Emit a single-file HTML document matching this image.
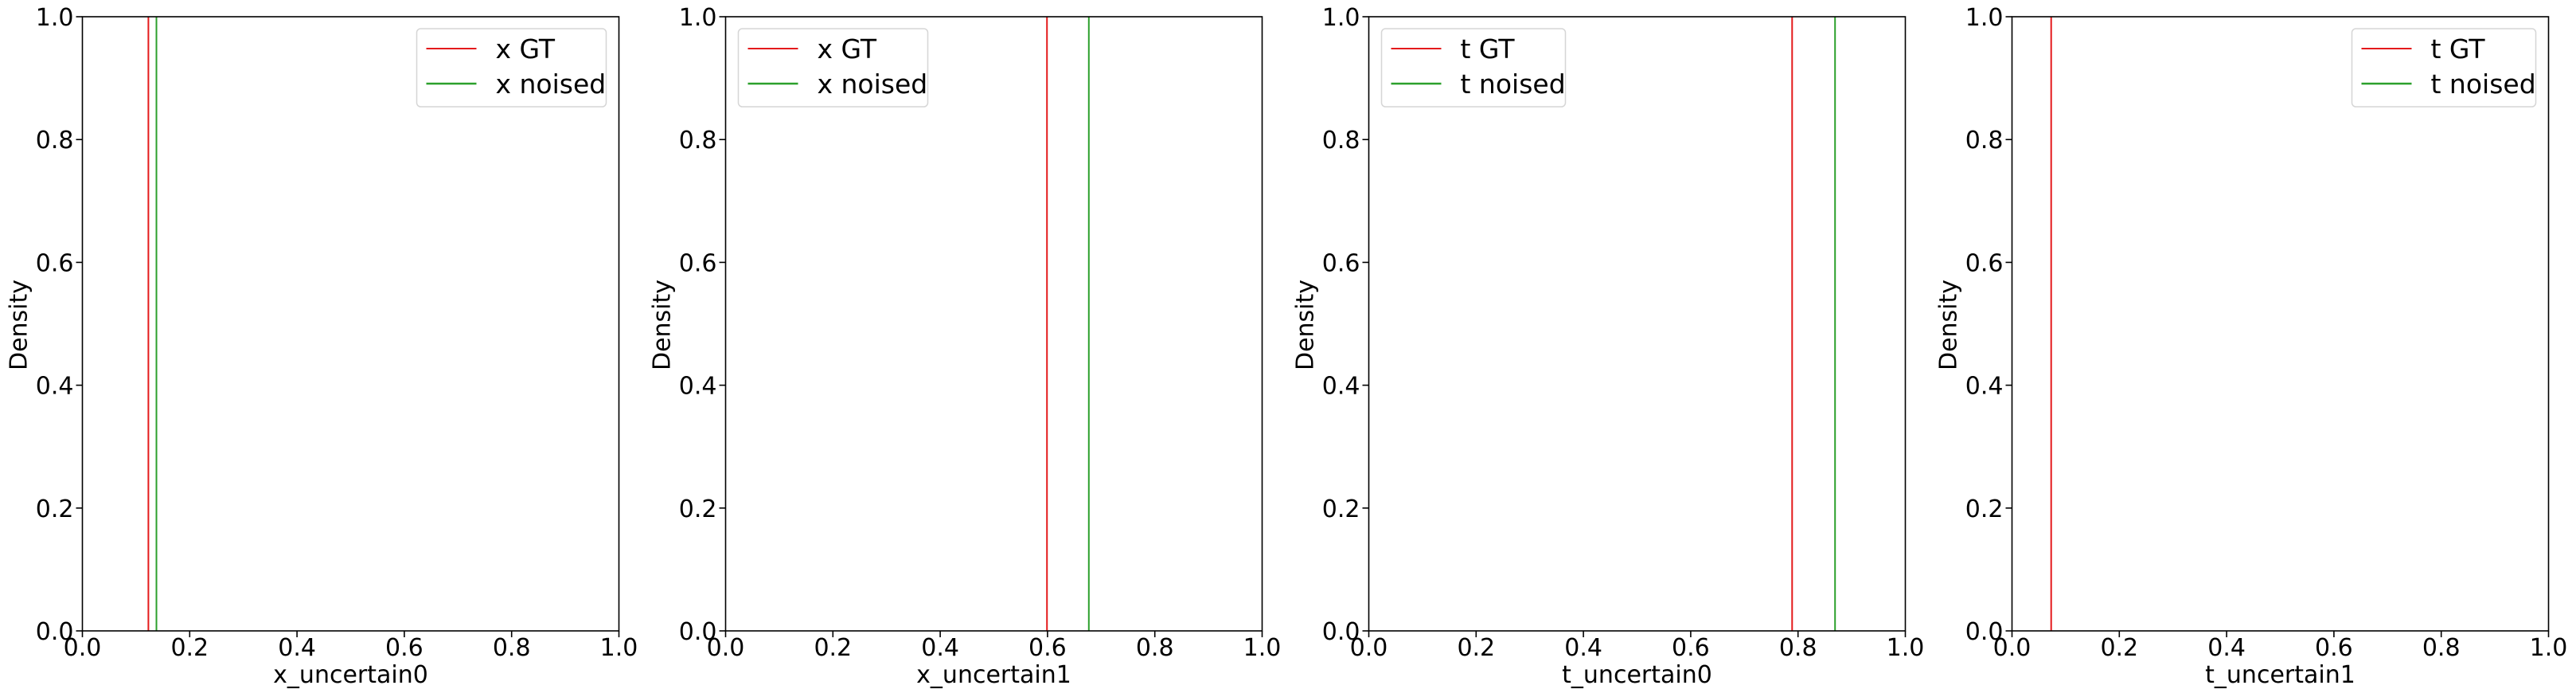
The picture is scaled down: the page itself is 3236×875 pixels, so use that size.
<!DOCTYPE html>
<html><head><meta charset="utf-8"><style>
html,body{margin:0;padding:0;background:#fff;}
svg{display:block;font-family:"DejaVu Sans","Liberation Sans",sans-serif;}
</style></head><body>
<svg id="fig" width="3236" height="875" xmlns="http://www.w3.org/2000/svg"></svg>
<script>
const panelXLabels = ["x_uncertain0","x_uncertain1","t_uncertain0","t_uncertain1"];
const legendGT = ["x GT","x GT","t GT","t GT"];
const legendNoised = ["x noised","x noised","t noised","t noised"];
const gtValues = [0.123, 0.599, 0.789, 0.073];
const noisedValues = [0.138, 0.677, 0.869, null];
const xTicks = [0,0.2,0.4,0.6,0.8,1.0];
const xTickLabels = ["0.0","0.2","0.4","0.6","0.8","1.0"];
const yTicks = [0,0.2,0.4,0.6,0.8,1.0];
const yTickLabels = ["0.0","0.2","0.4","0.6","0.8","1.0"];

const NS="http://www.w3.org/2000/svg";
const svg=document.getElementById('fig');
function mk(tag,attrs,parent,text){const e=document.createElementNS(NS,tag);for(const k in attrs)e.setAttribute(k,attrs[k]);if(text!==undefined)e.textContent=text;parent.appendChild(e);return e;}
const W=674,T=21,B=792,H=B-T;
panelXLabels.forEach((lab,i)=>{
  const L=103.5+808*i;
  const xs=v=>L+v*W, ys=v=>B-v*H;
  const g=mk('g',{},svg);
  
  
  const gx=xs(gtValues[i]);
  const gl=mk('line',{x1:gx,x2:gx,y1:ys(0),y2:ys(1),stroke:'#e41a1c','stroke-width':2},g);
  
  
  if(noisedValues[i]!==null){
    const nx=xs(noisedValues[i]);
    const nl=mk('line',{x1:nx,x2:nx,y1:ys(0),y2:ys(1),stroke:'#2ca02c','stroke-width':2},g);
    
    
  }
  const fr=mk('rect',{x:L,y:T,width:W,height:H,fill:'none',stroke:'#000','stroke-width':1.6},g);
  
  
  xTicks.forEach((t,j)=>{
    mk('line',{x1:xs(t),x2:xs(t),y1:B,y2:B+8,stroke:'#000','stroke-width':1.6},g);
    const tx=mk('text',{x:xs(t),y:823,'font-size':30,'text-anchor':'middle'},g,xTickLabels[j]);
    
    
  });
  yTicks.forEach((t,j)=>{
    mk('line',{x1:L-8,x2:L,y1:ys(t),y2:ys(t),stroke:'#000','stroke-width':1.6},g);
    const ty=mk('text',{x:L-11,y:ys(t)+11,'font-size':30,'text-anchor':'end'},g,yTickLabels[j]);
    
    
  });
  const xl=mk('text',{x:L+W/2,y:857,'font-size':30,'text-anchor':'middle'},g,lab);
  
  
  const yl=mk('text',{x:0,y:0,'font-size':30,'text-anchor':'middle',transform:`translate(${L-70},408) rotate(-90)`},g,'Density');
  
  
  const legW=(i<2)?238:231, legL=(i===0||i===3)?L+W-16-legW:L+16;
  const lg=mk('g',{},g);
  
  
  mk('rect',{x:legL,y:36,width:legW,height:98,rx:5,fill:'#fff',stroke:'#d6d6d6','stroke-width':1.5},lg);
  mk('line',{x1:legL+12,x2:legL+75,y1:61,y2:61,stroke:'#e41a1c','stroke-width':2},lg);
  mk('line',{x1:legL+12,x2:legL+75,y1:105,y2:105,stroke:'#2ca02c','stroke-width':2.5},lg);
  const e1=mk('text',{x:legL+99,y:73,'font-size':33},lg,legendGT[i]);
  
  
  const e2=mk('text',{x:legL+99,y:117,'font-size':33},lg,legendNoised[i]);
  
  
});
</script>
</body></html>
